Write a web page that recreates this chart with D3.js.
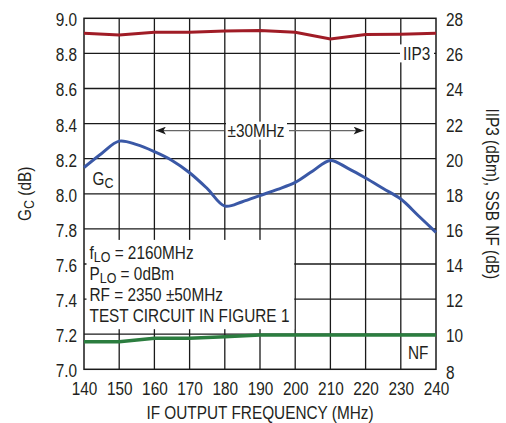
<!DOCTYPE html>
<html>
<head>
<meta charset="utf-8">
<script src="https://cdn.jsdelivr.net/npm/d3@7"></script>
<style>
  body { margin: 0; background: #fff; }
  svg text { font-family: "Liberation Sans", Arial, sans-serif; fill: #231f20; }
</style>
</head>
<body>
<svg id="chart" width="506" height="423"></svg>
<script>
// Conversion gain vs IF frequency (left axis, dB)
const gcFreq = [140, 145, 150, 155, 160, 165, 170, 175, 180, 185, 190, 195, 200, 205, 210, 215, 220, 225, 230, 235, 240];
const gcValues = [8.15, 8.23, 8.30, 8.28, 8.24, 8.19, 8.12, 8.03, 7.93, 7.955, 7.99, 8.025, 8.065, 8.13, 8.19, 8.145, 8.09, 8.03, 7.97, 7.875, 7.78];

// IIP3 and SSB NF (right axis, dBm / dB)
const freq = [140, 150, 160, 170, 180, 190, 200, 210, 220, 230, 240];
const iip3Values = [27.15, 27.05, 27.2, 27.2, 27.28, 27.3, 27.2, 26.82, 27.07, 27.09, 27.15];
const nfValues = [9.57, 9.57, 9.77, 9.77, 9.86, 9.95, 9.95, 9.95, 9.95, 9.95, 9.95];

const xTicks = [140, 150, 160, 170, 180, 190, 200, 210, 220, 230, 240];
const leftTicks = [7.0, 7.2, 7.4, 7.6, 7.8, 8.0, 8.2, 8.4, 8.6, 8.8, 9.0];
const rightTicks = [8, 10, 12, 14, 16, 18, 20, 22, 24, 26, 28];

const noteLines = [
  ['f', 'LO', ' = 2160MHz'],
  ['P', 'LO', ' = 0dBm'],
  ['RF = 2350 ±50MHz', '', ''],
  ['TEST CIRCUIT IN FIGURE 1', '', '']
];

const margin = { top: 18.3, right: 70, bottom: 53.7, left: 84 };
const width = 506;
const height = 423;
const x0 = margin.left, x1 = width - margin.right;
const y0 = height - margin.bottom, y1 = margin.top;
const fontSize = 18.5;
const subSize = 15;
const squeeze = 0.83; // condensed look from a regular face

const svg = d3.select('#chart');

const x = d3.scaleLinear().domain([140, 240]).range([x0, x1]);
const yL = d3.scaleLinear().domain([7, 9]).range([y0, y1]);
const yR = d3.scaleLinear().domain([8, 28]).range([y0, y1]);

// Grid
const grid = svg.append('g').attr('stroke', '#1a1a1a').attr('stroke-width', 1.3);
grid.selectAll('line.v')
  .data(xTicks.slice(1, -1))
  .join('line')
  .attr('x1', d => x(d)).attr('x2', d => x(d))
  .attr('y1', y1).attr('y2', y0);
grid.selectAll('line.h')
  .data(leftTicks.slice(1, -1))
  .join('line')
  .attr('x1', x0).attr('x2', x1)
  .attr('y1', d => yL(d)).attr('y2', d => yL(d));

// White box behind the test conditions
svg.append('rect')
  .attr('x', x0 + 2.5)
  .attr('y', yL(7.8) + 11)
  .attr('width', x(200) - x0 - 3.5)
  .attr('height', yL(7.2) - yL(7.8) - 16)
  .attr('fill', '#fff');

// Frame
svg.append('rect')
  .attr('x', x0).attr('y', y1)
  .attr('width', x1 - x0).attr('height', y0 - y1)
  .attr('fill', 'none')
  .attr('stroke', '#1a1a1a')
  .attr('stroke-width', 1.5);

// Axes labels
const xAxis = d3.axisBottom(x).tickValues(xTicks).tickSize(0).tickPadding(12.5);
svg.append('g')
  .attr('transform', `translate(0,${y0})`)
  .call(xAxis)
  .call(g => g.select('.domain').remove())
  .selectAll('text').style('font-size', fontSize + 'px');

const leftAxis = d3.axisLeft(yL).tickValues(leftTicks).tickFormat(d3.format('.1f')).tickSize(0).tickPadding(7);
svg.append('g')
  .attr('transform', `translate(${x0},0)`)
  .call(leftAxis)
  .call(g => g.select('.domain').remove())
  .selectAll('text').style('font-size', fontSize + 'px').attr('dy', '0.4em');

const rightAxis = d3.axisRight(yR).tickValues(rightTicks).tickFormat(d3.format('d')).tickSize(0).tickPadding(10);
svg.append('g')
  .attr('transform', `translate(${x1},0)`)
  .call(rightAxis)
  .call(g => g.select('.domain').remove())
  .selectAll('text')
  .style('font-size', fontSize + 'px')
  .attr('dy', d => d === 8 ? '0.52em' : '0.4em');

// Titles
svg.append('text')
  .attr('x', (x0 + x1) / 2)
  .attr('y', 419)
  .attr('text-anchor', 'middle')
  .style('font-size', fontSize + 'px')
  .text('IF OUTPUT FREQUENCY (MHz)');

const lt = svg.append('text')
  .attr('transform', `translate(30.5,${(y0 + y1) / 2}) rotate(-90)`)
  .attr('text-anchor', 'middle')
  .style('font-size', fontSize + 'px');
lt.append('tspan').text('G');
lt.append('tspan').attr('dy', 3).style('font-size', subSize + 'px').text('C');
lt.append('tspan').attr('dy', -3).text(' (dB)');

svg.append('text')
  .attr('transform', `translate(485.5,${(y0 + y1) / 2}) rotate(90)`)
  .attr('text-anchor', 'middle')
  .style('font-size', fontSize + 'px')
  .text('IIP3 (dBm), SSB NF (dB)');

// ±30MHz arrow
const arrowY = yL(8.36);
const defs = svg.append('defs');
defs.append('marker')
  .attr('id', 'arrow')
  .attr('viewBox', '0 0 10 8')
  .attr('refX', 10).attr('refY', 4)
  .attr('markerWidth', 13).attr('markerHeight', 8)
  .attr('markerUnits', 'userSpaceOnUse')
  .attr('orient', 'auto')
  .append('path')
  .attr('d', 'M0,0 L10,4 L0,8 L2.5,4 Z')
  .attr('fill', '#1a1a1a');

svg.append('line')
  .attr('x1', 224).attr('x2', x(160) + 1.5)
  .attr('y1', arrowY).attr('y2', arrowY)
  .attr('stroke', '#666').attr('stroke-width', 1.2)
  .attr('marker-end', 'url(#arrow)');
svg.append('line')
  .attr('x1', 289).attr('x2', x(220) - 2)
  .attr('y1', arrowY).attr('y2', arrowY)
  .attr('stroke', '#666').attr('stroke-width', 1.2)
  .attr('marker-end', 'url(#arrow)');
svg.append('rect')
  .attr('x', 226).attr('y', arrowY - 9)
  .attr('width', 61).attr('height', 18)
  .attr('fill', '#fff');
svg.append('text')
  .attr('x', 256).attr('y', arrowY + 6.5)
  .attr('text-anchor', 'middle')
  .style('font-size', fontSize + 'px')
  .text('±30MHz');

// Curves
const gcLine = d3.line()
  .x((d, i) => x(gcFreq[i]))
  .y(d => yL(d))
  .curve(d3.curveCatmullRom.alpha(0.5));

const rLine = d3.line()
  .x((d, i) => x(freq[i]))
  .y(d => yR(d));

svg.append('path')
  .datum(iip3Values)
  .attr('fill', 'none')
  .attr('stroke', '#a01c26')
  .attr('stroke-width', 3)
  .attr('d', rLine);

svg.append('path')
  .datum(nfValues)
  .attr('fill', 'none')
  .attr('stroke', '#2b7d3f')
  .attr('stroke-width', 3.5)
  .attr('d', rLine);

svg.append('path')
  .datum(gcValues)
  .attr('fill', 'none')
  .attr('stroke', '#3a58a6')
  .attr('stroke-width', 3)
  .attr('stroke-linejoin', 'round')
  .attr('d', gcLine);

// Series labels
svg.append('rect')
  .attr('x', 400).attr('y', yR(26) - 9)
  .attr('width', 34).attr('height', 18)
  .attr('fill', '#fff');
svg.append('text')
  .attr('x', 403).attr('y', yR(26) + 6.5)
  .style('font-size', fontSize + 'px')
  .text('IIP3');

svg.append('text')
  .attr('x', 408).attr('y', 358.5)
  .style('font-size', fontSize + 'px')
  .text('NF');

const gcLabel = svg.append('text')
  .attr('x', 92.5).attr('y', 184.5)
  .style('font-size', fontSize + 'px');
gcLabel.append('tspan').text('G');
gcLabel.append('tspan').attr('dy', 3).style('font-size', subSize + 'px').text('C');

// Test conditions
const notes = svg.append('g');
noteLines.forEach((parts, i) => {
  const t = notes.append('text')
    .attr('x', 89.5)
    .attr('y', 258.5 + i * 21)
    .style('font-size', fontSize + 'px');
  t.append('tspan').text(parts[0]);
  if (parts[1]) {
    t.append('tspan').attr('dy', 3).style('font-size', subSize + 'px').text(parts[1]);
    t.append('tspan').attr('dy', -3).text(parts[2]);
  }
});

// squeeze every text horizontally around its anchor
svg.selectAll('text').each(function() {
  const t = d3.select(this);
  const tx = +t.attr('x') || 0;
  const ty = +t.attr('y') || 0;
  const prev = t.attr('transform') || '';
  t.attr('x', null).attr('y', null)
    .attr('transform', `${prev} translate(${tx},${ty}) scale(${squeeze},1)`);
});
</script>
</body>
</html>
